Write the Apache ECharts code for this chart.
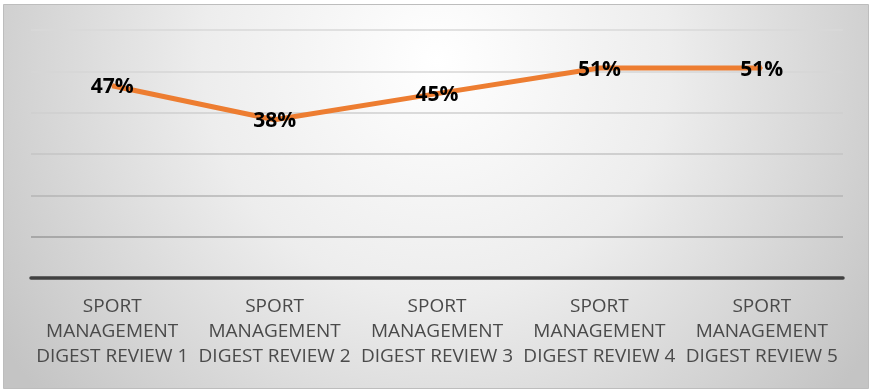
<!DOCTYPE html>
<html>
<head>
<meta charset="utf-8">
<script src="https://cdn.jsdelivr.net/npm/echarts@6/dist/echarts.min.js"></script>
<style>
html,body{margin:0;padding:0;background:#fff;}
#c{width:875px;height:392px;}
</style>
</head>
<body>
<div id="c"></div>
<script>
const categories = [
  'SPORT\nMANAGEMENT\nDIGEST REVIEW 1',
  'SPORT\nMANAGEMENT\nDIGEST REVIEW 2',
  'SPORT\nMANAGEMENT\nDIGEST REVIEW 3',
  'SPORT\nMANAGEMENT\nDIGEST REVIEW 4',
  'SPORT\nMANAGEMENT\nDIGEST REVIEW 5'
];
const values = [46.5, 38.3, 44.6, 50.8, 50.8];
const yMin = 0, yMax = 60, yStep = 10;

const chart = echarts.init(document.getElementById('c'), null, {renderer: 'canvas'});
chart.setOption({
  animation: false,
  backgroundColor: '#ffffff',
  graphic: [{
    type: 'rect',
    z: -10,
    silent: true,
    shape: {x: 3.5, y: 4.5, width: 865, height: 384},
    style: {
      fill: new echarts.graphic.RadialGradient(437, 60, 520, [
        {offset: 0, color: '#ffffff'},
        {offset: 0.45, color: '#ededed'},
        {offset: 1, color: '#c4c4c4'}
      ], true),
      stroke: '#bdbdbd',
      lineWidth: 1
    }
  }],
  grid: {left: 31, right: 32, top: 30, bottom: 114, containLabel: false},
  xAxis: {
    type: 'category',
    data: categories,
    boundaryGap: true,
    axisLine: {show: true, lineStyle: {color: '#404040', width: 3.5}},
    axisTick: {show: false},
    axisLabel: {
      color: '#4a4a4a',
      fontFamily: 'Open Sans',
      fontSize: 19,
      lineHeight: 25,
      margin: 16,
      interval: 0
    },
    splitLine: {show: false}
  },
  yAxis: {
    type: 'value',
    min: yMin,
    max: yMax,
    interval: yStep,
    axisLine: {show: false},
    axisTick: {show: false},
    axisLabel: {show: false},
    splitLine: {
      show: true,
      lineStyle: {
        color: ['#404040', '#9a9a9a', '#b4b4b4', '#c4c4c4', '#cfcfcf', '#d6d6d6', '#d9d9d9'],
        width: 1.5
      }
    }
  },
  series: [{
    type: 'line',
    data: values,
    symbol: 'circle',
    symbolSize: 2,
    showSymbol: true,
    itemStyle: {color: '#ED7D31'},
    lineStyle: {color: '#ED7D31', width: 5, join: 'round'},
    label: {
      show: true,
      position: 'top',
      distance: -13,
      formatter: p => Math.round(p.value) + '%',
      color: '#000000',
      fontFamily: 'Open Sans',
      fontWeight: 'bold',
      fontSize: 21
    },
    labelLayout: {hideOverlap: false}
  }]
});
</script>
</body>
</html>
